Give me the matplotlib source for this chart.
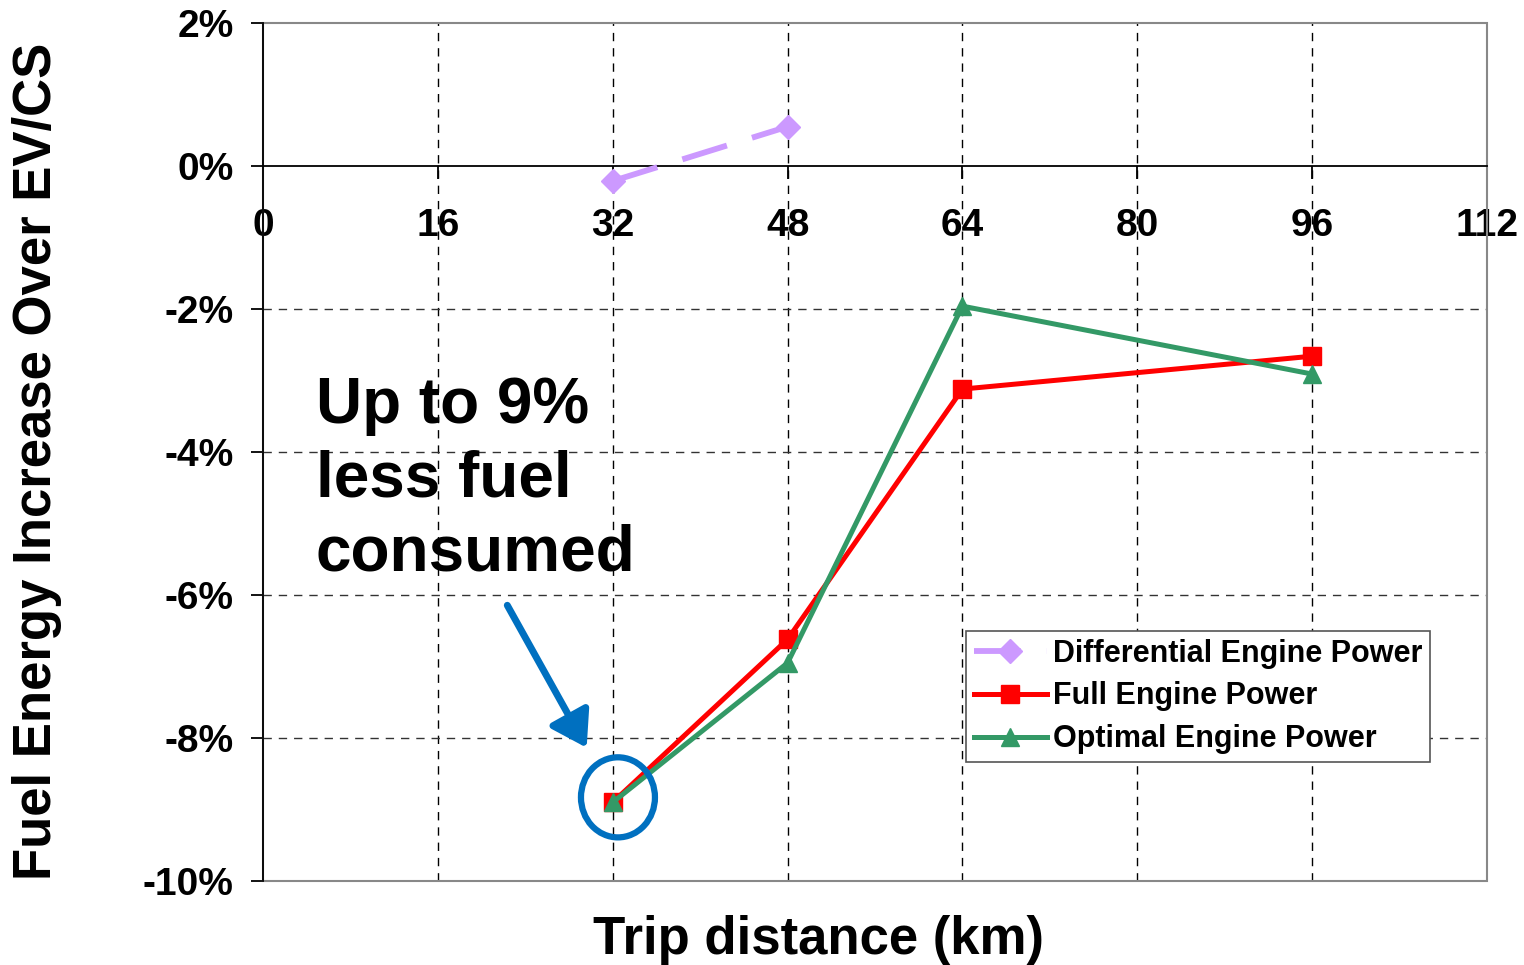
import matplotlib
matplotlib.use("Agg")
import matplotlib.pyplot as plt
from matplotlib.patches import Ellipse, Rectangle, FancyArrowPatch

plt.rcParams['font.family'] = ['Liberation Sans', 'DejaVu Sans']
plt.rcParams['font.weight'] = 'bold'

# --- data (percent fuel energy increase over EV/CS) ---
diff_km = [32, 48]
diff_pct = [-0.21, 0.55]
full_km = [32, 48, 64, 96]
full_pct = [-8.9, -6.62, -3.12, -2.66]
opt_km = [32, 48, 64, 96]
opt_pct = [-8.9, -6.95, -1.96, -2.91]

x_ticks = [0, 16, 32, 48, 64, 80, 96, 112]
y_ticks = [2, 0, -2, -4, -6, -8, -10]

fig = plt.figure(figsize=(15.24, 9.65), dpi=100)
ax = fig.add_axes([263 / 1524, 1 - 881 / 965, 1224 / 1524, 858 / 965])
ax.set_xlim(0, 112)
ax.set_ylim(-10, 2)

# grid
for xv in x_ticks[1:-1]:
    ax.axvline(xv, color='black', lw=1, ls=(0, (6, 5)), zorder=1)
for yv in y_ticks[2:-1]:
    ax.axhline(yv, color='#333333', lw=1, ls=(0, (6, 5)), zorder=1)

# gray frame around plot area
ax.add_patch(Rectangle((0, 0), 1, 1, transform=ax.transAxes, fill=False,
                       edgecolor='#888888', lw=1.5, clip_on=False, zorder=2))

# series
ax.plot(diff_km, diff_pct, color='#CC99FF', lw=4.2, ls=(0, (8, 4.5)),
        marker='D', ms=12, label='Differential Engine Power', zorder=4)
ax.plot(full_km, full_pct, color='#FF0000', lw=3.6, marker='s', ms=13,
        label='Full Engine Power', zorder=4)
ax.plot(opt_km, opt_pct, color='#339966', lw=3.6, marker='^', ms=13,
        label='Optimal Engine Power', zorder=5)

# axes styling: x axis crosses at 0%
for s in ['top', 'right']:
    ax.spines[s].set_visible(False)
ax.spines['left'].set_color('black')
ax.spines['left'].set_linewidth(1.3)
ax.spines['bottom'].set_position(('data', 0))
ax.spines['bottom'].set_linewidth(1.3)
ax.spines['bottom'].set_zorder(3)

ax.set_xticks(x_ticks)
ax.set_yticks(y_ticks)
ax.set_yticklabels([f"{v}%" for v in y_ticks])
ax.tick_params(axis='x', direction='out', length=9, width=1.3, pad=21,
               labelsize=28)
ax.tick_params(axis='y', direction='out', length=9, width=1.3, pad=12,
               labelsize=28)
for lab in ax.get_xticklabels() + ax.get_yticklabels():
    lab.set_fontweight('bold')

fig.text(37 / 1524, 0.5223, 'Fuel Energy Increase Over EV/CS', rotation=90,
         ha='center', va='center', fontsize=38, fontweight='bold')
fig.text(0.5374, 0.026, 'Trip distance (km)', ha='center', va='center',
         fontsize=38, fontweight='bold')

# annotation
ax.text((316 - 263) / 1224 * 112, (166 - 376) / 71.5,
        'Up to 9%\nless fuel\nconsumed', fontsize=46, fontweight='bold',
        ha='left', va='top', linespacing=1.29)
ax.add_patch(Ellipse((32.48, -8.83), 6.77, 1.12, fill=False,
                     edgecolor='#0070C0', lw=4.5, zorder=6))
ax.add_patch(FancyArrowPatch((22.23, -6.11), (29.74, -8.17),
                             arrowstyle='-|>,head_length=14,head_width=9',
                             color='#0070C0', lw=5, mutation_scale=1.5,
                             zorder=6))

leg = ax.legend(loc='upper left', bbox_to_anchor=((966 - 263) / 1224, 1 - (631 - 23) / 858),
                fontsize=22, frameon=True, fancybox=False, framealpha=1,
                edgecolor='#555555', handlelength=2.4, borderpad=0.25,
                labelspacing=0.42, handletextpad=0.2, borderaxespad=0)
leg.get_frame().set_linewidth(1.2)
for t in leg.get_texts():
    t.set_fontweight('bold')

fig.savefig('out.png', dpi=100)
